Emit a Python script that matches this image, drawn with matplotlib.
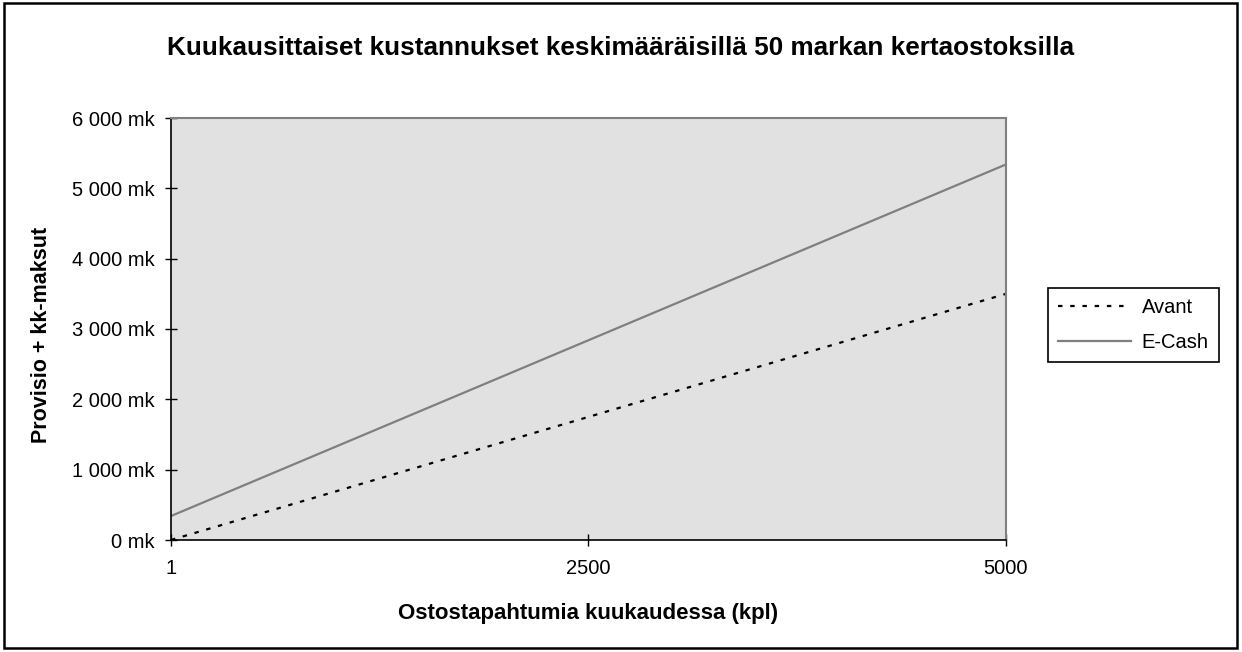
import matplotlib
matplotlib.use("Agg")
import matplotlib.pyplot as plt
from matplotlib.patches import Rectangle
from matplotlib.ticker import FuncFormatter

plt.rcParams['font.family'] = ['Liberation Sans', 'DejaVu Sans']

# ostostapahtumia kuukaudessa (kpl)
ostot = [1, 2500, 5000]
# kustannukset (mk)
avant = [0.7, 1750, 3500]
ecash = [341, 2840, 5340]
sarjat = ['Avant', 'E-Cash']
x_tikit = [1, 2500, 5000]
y_tikit = [0, 1000, 2000, 3000, 4000, 5000, 6000]

fig = plt.figure(figsize=(12.42, 6.52), dpi=100)
ax = fig.add_axes([171/1242, 1-540/652, 835/1242, 422/652])
ax.set_facecolor('#e1e1e1')

ax.plot(ostot, avant, color='black', lw=1.6, linestyle=(0, (2, 3.5)), label=sarjat[0])
ax.plot(ostot, ecash, color='#7f7f7f', lw=1.6, label=sarjat[1])

ax.set_xlim(1, 5000)
ax.set_ylim(0, 6000)
ax.set_xticks(x_tikit)
ax.set_yticks(y_tikit)
ax.yaxis.set_major_formatter(FuncFormatter(lambda v, p: f"{int(v):,} mk".replace(",", " ")))

for s in ['top', 'right']:
    ax.spines[s].set_color('#808080')
    ax.spines[s].set_linewidth(1.5)
for s in ['left', 'bottom']:
    ax.spines[s].set_color('black')
    ax.spines[s].set_linewidth(1.2)

ax.tick_params(axis='both', direction='inout', length=8, width=1, labelsize=14.5, colors='black')
ax.tick_params(axis='y', pad=7.5)
ax.tick_params(axis='x', pad=10)

fig.text(0.5, 1-48/652, 'Kuukausittaiset kustannukset keskimääräisillä 50 markan kertaostoksilla',
         ha='center', va='center', fontsize=18.8, fontweight='bold')
fig.text(588/1242, 1-614/652, 'Ostostapahtumia kuukaudessa (kpl)',
         ha='center', va='center', fontsize=16, fontweight='bold')
fig.text(42/1242, 1-335/652, 'Provisio + kk-maksut', rotation=90,
         ha='center', va='center', fontsize=15.5, fontweight='bold')

leg = fig.legend(loc='upper left', bbox_to_anchor=(1048/1242, 1-288/652), borderaxespad=0,
                 fontsize=14.5, handlelength=3.6, handletextpad=0.55, fancybox=False,
                 framealpha=1, edgecolor='black', labelspacing=0.8, borderpad=0.5)
leg.get_frame().set_linewidth(1.2)

# kehys koko kuvan ympärille
fig.patches.append(Rectangle((4/1242, 4/652), 1233/1242, 645/652, transform=fig.transFigure,
                             fill=False, edgecolor='black', lw=1.8))

fig.savefig('out.png', dpi=100)
